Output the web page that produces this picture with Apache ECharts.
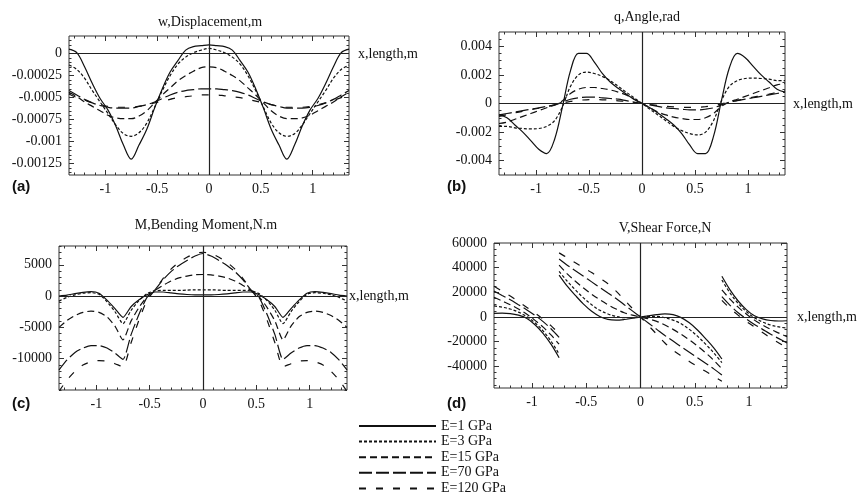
<!DOCTYPE html>
<html>
<head>
<meta charset="utf-8">
<script src="https://cdn.jsdelivr.net/npm/echarts@6/dist/echarts.min.js"></script>
<style>
html,body{margin:0;padding:0;background:#fff;}
#chart{width:859px;height:501px;}
</style>
</head>
<body>
<div id="chart"></div>
<script>
// ---------- data ----------
const seriesNames = ['E=1 GPa','E=3 GPa','E=15 GPa','E=70 GPa','E=120 GPa'];
const xs = [-1.35,-1.275,-1.2,-1.125,-1.05,-0.975,-0.9,-0.825,-0.75,-0.675,-0.6,-0.525,-0.45,-0.375,-0.3,-0.225,-0.15,-0.075,0,0.075,0.15,0.225,0.3,0.375,0.45,0.525,0.6,0.675,0.75,0.825,0.9,0.975,1.05,1.125,1.2,1.275,1.35];

// (a) displacement, m
const dispE1 = [0.00005,0.00001,-0.00015,-0.00034,-0.00051,-0.00064,-0.00082,-0.00104,-0.0012,-0.00104,-0.00086,-0.00062,-0.0004,-0.00021,-0.00008,0.00004,0.00008,0.00009,0.0001,0.00009,0.00008,0.00004,-0.00008,-0.00021,-0.0004,-0.00062,-0.00086,-0.00104,-0.0012,-0.00104,-0.00082,-0.00064,-0.00051,-0.00034,-0.00015,0.00001,0.00005];
const dispE3 = [-0.00013,-0.00018,-0.00028,-0.00042,-0.00055,-0.00068,-0.00081,-0.00091,-0.00094,-0.0009,-0.00079,-0.00061,-0.00042,-0.00025,-0.00012,-0.00004,0.00001,0.00004,0.00006,0.00004,0.00001,-0.00004,-0.00012,-0.00025,-0.00042,-0.00061,-0.00079,-0.0009,-0.00094,-0.00091,-0.00081,-0.00068,-0.00055,-0.00042,-0.00028,-0.00018,-0.00013];
const dispE15 = [-0.00044,-0.00049,-0.00055,-0.0006,-0.00065,-0.0007,-0.00073,-0.00074,-0.00074,-0.00071,-0.00065,-0.00056,-0.00047,-0.00039,-0.00031,-0.00025,-0.0002,-0.00016,-0.00015,-0.00016,-0.0002,-0.00025,-0.00031,-0.00039,-0.00047,-0.00056,-0.00065,-0.00071,-0.00074,-0.00074,-0.00073,-0.0007,-0.00065,-0.0006,-0.00055,-0.00049,-0.00044];
const dispE70 = [-0.00042,-0.00047,-0.00052,-0.00056,-0.00059,-0.00061,-0.00062,-0.00062,-0.00062,-0.0006,-0.00058,-0.00055,-0.00051,-0.00047,-0.00044,-0.00042,-0.00041,-0.0004,-0.0004,-0.0004,-0.00041,-0.00042,-0.00044,-0.00047,-0.00051,-0.00055,-0.00058,-0.0006,-0.00062,-0.00062,-0.00062,-0.00061,-0.00059,-0.00056,-0.00052,-0.00047,-0.00042];
const dispE120 = [-0.00046,-0.0005,-0.00053,-0.00056,-0.00058,-0.0006,-0.00061,-0.00061,-0.00061,-0.0006,-0.00058,-0.00056,-0.00054,-0.00052,-0.0005,-0.00049,-0.00048,-0.00047,-0.00047,-0.00047,-0.00048,-0.00049,-0.0005,-0.00052,-0.00054,-0.00056,-0.00058,-0.0006,-0.00061,-0.00061,-0.00061,-0.0006,-0.00058,-0.00056,-0.00053,-0.0005,-0.00046];

// (b) angle, rad
const angE1 = [-0.0008,-0.001,-0.0015,-0.002,-0.0026,-0.0032,-0.0035,-0.0025,-0.0002,0.0023,0.0035,0.0035,0.0029,0.0021,0.0015,0.00106,0.00067,0.0003,0,-0.0003,-0.00067,-0.00106,-0.0015,-0.0021,-0.0029,-0.0035,-0.0035,-0.0023,0.0002,0.0025,0.0035,0.0032,0.0026,0.002,0.0015,0.001,0.0008];
const angE3 = [-0.0016,-0.0016,-0.0017,-0.00175,-0.00178,-0.00175,-0.0016,-0.0012,-0.0002,0.0012,0.002,0.0022,0.0021,0.0019,0.0016,0.0012,0.0008,0.0004,0,-0.0004,-0.0008,-0.0012,-0.0016,-0.0019,-0.0021,-0.0022,-0.002,-0.0012,0.0002,0.0012,0.0016,0.00175,0.00178,0.00175,0.0017,0.0016,0.0016];
const angE15 = [-0.0014,-0.0013,-0.0011,-0.0009,-0.0007,-0.0005,-0.0003,-0.0001,0.0002,0.0007,0.001,0.00112,0.00112,0.00105,0.00095,0.0008,0.0006,0.0003,0,-0.0003,-0.0006,-0.0008,-0.00095,-0.00105,-0.00112,-0.00112,-0.001,-0.0007,-0.0002,0.0001,0.0003,0.0005,0.0007,0.0009,0.0011,0.0013,0.0014];
const angE70 = [-0.0008,-0.0007,-0.0006,-0.0005,-0.0004,-0.0003,-0.0002,-0.0001,0.0001,0.0003,0.0004,0.00045,0.00045,0.0004,0.00035,0.0003,0.0002,0.0001,0,-0.0001,-0.0002,-0.0003,-0.00035,-0.0004,-0.00045,-0.00045,-0.0004,-0.0003,-0.0001,0.0001,0.0002,0.0003,0.0004,0.0005,0.0006,0.0007,0.0008];
const angE120 = [-0.0009,-0.00078,-0.00066,-0.00055,-0.00044,-0.00033,-0.00022,-0.0001,0.00003,0.00015,0.00022,0.00026,0.00027,0.00026,0.00023,0.00019,0.00014,0.00007,0,-0.00007,-0.00014,-0.00019,-0.00023,-0.00026,-0.00027,-0.00026,-0.00022,-0.00015,-0.00003,0.0001,0.00022,0.00033,0.00044,0.00055,0.00066,0.00078,0.0009];

// (c) bending moment, N.m
const momE1 = [0,150,400,600,700,450,-650,-2000,-3400,-1700,-600,200,650,650,500,350,250,200,200,200,250,350,500,650,650,200,-600,-1700,-3400,-2000,-650,450,700,600,400,150,0];
const momE3 = [-800,-200,200,450,550,300,-900,-2500,-4400,-2300,-700,400,850,900,900,900,950,1000,1000,1000,950,900,900,900,850,400,-700,-2300,-4400,-2500,-900,300,550,450,200,-200,-800];
const momE15 = [-5000,-3900,-3100,-2600,-2400,-2600,-3300,-4800,-7000,-4000,-1800,-100,900,1700,2400,2900,3200,3400,3450,3400,3200,2900,2400,1700,900,-100,-1800,-4000,-7000,-4800,-3300,-2600,-2400,-2600,-3100,-3900,-5000];
const momE70 = [-11800,-10200,-9000,-8300,-7900,-7900,-8300,-9100,-10100,-6200,-2900,-200,1000,2600,3900,4900,5700,6400,6800,6400,5700,4900,3900,2600,1000,-200,-2900,-6200,-10100,-9100,-8300,-7900,-7900,-8300,-9000,-10200,-11800];
const momE120 = [-15200,-13400,-12000,-11000,-10500,-10300,-10400,-10800,-11300,-7500,-3800,-700,1000,2800,4300,5400,6200,6800,7000,6800,6200,5400,4300,2800,1000,-700,-3800,-7500,-11300,-10800,-10400,-10300,-10500,-11000,-12000,-13400,-15200];

// (d) shear force, N  (three segments, jumps at the supports x = ±0.75)
const xsLeft = xs.slice(0, 9), xsMid = xs.slice(8, 29), xsRight = xs.slice(28);
const shearE1L = [3000,3200,2800,1500,-1000,-6000,-13000,-22000,-33000];
const shearE3L = [9000,8000,6500,4000,500,-4500,-11000,-19500,-30000];
const shearE15L = [16000,13000,10000,6500,2500,-2500,-8000,-14500,-22000];
const shearE70L = [21000,17500,14000,10000,6000,1500,-3500,-9500,-16500];
const shearE120L = [25000,21000,17000,12500,8000,3500,-1500,-7000,-13500];
const shearE1M = [34000,25000,17500,10500,4700,500,-1900,-2500,-2000,-1000,0,1000,2000,2500,1900,-500,-4700,-10500,-17500,-25000,-34000];
const shearE3M = [37000,29000,22000,15500,10000,5500,2500,500,-500,-500,0,500,500,-500,-2500,-5500,-10000,-15500,-22000,-29000,-37000];
const shearE15M = [42000,35000,29000,23500,18500,14000,10000,6500,3500,1500,0,-1500,-3500,-6500,-10000,-14000,-18500,-23500,-29000,-35000,-42000];
const shearE70M = [47000,42000,37500,33000,28500,24000,19500,15000,10000,5000,0,-5000,-10000,-15000,-19500,-24000,-28500,-33000,-37500,-42000,-47000];
const shearE120M = [52000,48000,44000,40000,36000,31500,27000,21000,14000,7000,0,-7000,-14000,-21000,-27000,-31500,-36000,-40000,-44000,-48000,-52000];
const shearE1R = [33000,22000,13000,6000,1000,-1500,-2800,-3200,-3000];
const shearE3R = [30000,19500,11000,4500,-500,-4000,-6500,-8000,-9000];
const shearE15R = [22000,14500,8000,2500,-2500,-6500,-10000,-13000,-16000];
const shearE70R = [16500,9500,3500,-1500,-6000,-10000,-14000,-17500,-21000];
const shearE120R = [13500,7000,1500,-3500,-8000,-12500,-17000,-21000,-25000];

// tick labels
const xTicks = [-1,-0.5,0,0.5,1];
const dispTicks = [-0.00125,-0.001,-0.00075,-0.0005,-0.00025,0];
const angTicks = [-0.004,-0.002,0,0.002,0.004];
const momTicks = [-10000,-5000,0,5000];
const shearTicks = [-40000,-20000,0,20000,40000,60000];

// ---------- chart ----------
const FONT = 'Liberation Serif';
const zip = (a, b) => a.map((v, i) => [v, b[i]]);
function steps(from, to, step, scale) {
  const out = [];
  const n = Math.round((to - from) / step);
  for (let k = 0; k <= n; k++) out.push(Math.round((from + k * step) * scale) / scale);
  return out;
}
const xMinor = steps(-1.3, 1.3, 0.1, 1000);

const panels = [
  {grid:{left:69, top:36, width:280, height:139}, ymin:-0.00138, ymax:0.0002, ticks:dispTicks, smooth:0.35,
   minor:steps(-0.00135, 0.00015, 0.00005, 1e7), data:[dispE1,dispE3,dispE15,dispE70,dispE120]},
  {grid:{left:499, top:32, width:286, height:143}, ymin:-0.005, ymax:0.005, ticks:angTicks, smooth:0.35,
   minor:steps(-0.0045, 0.0045, 0.0005, 1e6), data:[angE1,angE3,angE15,angE70,angE120]},
  {grid:{left:59, top:246, width:288, height:144}, ymin:-15000, ymax:8000, ticks:momTicks, smooth:0.2,
   minor:steps(-15000, 8000, 1000, 1), data:[momE1,momE3,momE15,momE70,momE120]},
  {grid:{left:494, top:243, width:293, height:145}, ymin:-57500, ymax:60000, ticks:shearTicks, smooth:0.35,
   minor:steps(-55000, 55000, 5000, 1), data:null}
];

const shearSegs = [
  [shearE1L, shearE1M, shearE1R],
  [shearE3L, shearE3M, shearE3R],
  [shearE15L, shearE15M, shearE15R],
  [shearE70L, shearE70M, shearE70R],
  [shearE120L, shearE120M, shearE120R]
];

const dashes = ['solid', [3,2], [7,4], [13,4], [7,10]];

const grids = [], xAxes = [], yAxes = [], series = [];
const labelStyle = {fontFamily: FONT, fontSize: 14, color: '#111'};
const noLine = {show:false, onZero:false};

panels.forEach((p, gi) => {
  grids.push(Object.assign({show: true, borderColor: '#333', borderWidth: 1, backgroundColor: 'transparent'}, p.grid));
  const xBase = {type:'value', gridIndex:gi, min:-1.35, max:1.35, splitLine:{show:false}, axisLine:noLine};
  xAxes.push(Object.assign({}, xBase, {position:'bottom',
    axisTick:{show:true, inside:true, length:5, customValues:xTicks, lineStyle:{color:'#333'}},
    axisLabel:Object.assign({show:true, margin:7, customValues:xTicks, formatter:v=>String(v)}, labelStyle)}));
  xAxes.push(Object.assign({}, xBase, {position:'bottom',
    axisTick:{show:true, inside:true, length:2.5, customValues:xMinor, lineStyle:{color:'#333'}},
    axisLabel:{show:false}}));
  xAxes.push(Object.assign({}, xBase, {position:'top',
    axisTick:{show:true, inside:true, length:5, customValues:xTicks, lineStyle:{color:'#333'}},
    axisLabel:{show:false}}));
  xAxes.push(Object.assign({}, xBase, {position:'top',
    axisTick:{show:true, inside:true, length:2.5, customValues:xMinor, lineStyle:{color:'#333'}},
    axisLabel:{show:false}}));
  const yBase = {type:'value', gridIndex:gi, min:p.ymin, max:p.ymax, splitLine:{show:false}, axisLine:noLine};
  yAxes.push(Object.assign({}, yBase, {position:'left',
    axisTick:{show:true, inside:true, length:5, customValues:p.ticks, lineStyle:{color:'#333'}},
    axisLabel:Object.assign({show:true, margin:7, customValues:p.ticks, formatter:v=>String(v)}, labelStyle)}));
  yAxes.push(Object.assign({}, yBase, {position:'left',
    axisTick:{show:true, inside:true, length:2.5, customValues:p.minor, lineStyle:{color:'#333'}},
    axisLabel:{show:false}}));
  yAxes.push(Object.assign({}, yBase, {position:'right',
    axisTick:{show:true, inside:true, length:5, customValues:p.ticks, lineStyle:{color:'#333'}},
    axisLabel:{show:false}}));
  yAxes.push(Object.assign({}, yBase, {position:'right',
    axisTick:{show:true, inside:true, length:2.5, customValues:p.minor, lineStyle:{color:'#333'}},
    axisLabel:{show:false}}));

  seriesNames.forEach((name, si) => {
    let data;
    if (p.data) {
      data = zip(xs, p.data[si]);
    } else {
      const [L, M, R] = shearSegs[si];
      data = zip(xsLeft, L).concat([[-0.75, '-']], zip(xsMid, M), [[0.75, '-']], zip(xsRight, R));
    }
    const s = {
      name, type:'line', xAxisIndex: gi*4, yAxisIndex: gi*4, data,
      symbol:'none', showSymbol:false, smooth:p.smooth, connectNulls:false, clip:true,
      lineStyle:{color:'#111', width:1.2, type:dashes[si]},
      itemStyle:{color:'#111'},
      emphasis:{disabled:true}, z: 3
    };
    if (si === 0) {
      s.markLine = {silent:true, symbol:['none','none'], label:{show:false},
        lineStyle:{color:'#222', type:'solid', width:1.2},
        emphasis:{disabled:true},
        data:[{yAxis:0}, {xAxis:0}]};
    }
    series.push(s);
  });
});

function ctext(cx, cy, text) {
  return {type:'text', x:cx, y:cy, silent:true,
    style:{text, fill:'#111', font:'14px "Liberation Serif"', align:'center', verticalAlign:'middle'}};
}
function ltext(lx, cy, text, font) {
  return {type:'text', x:lx, y:cy, silent:true,
    style:{text, fill:'#111', font: font || '14px "Liberation Serif"', align:'left', verticalAlign:'middle'}};
}
const boldSans = 'bold 15px "Liberation Sans"';
const graphics = [
  ctext(210, 22, 'w,Displacement,m'),
  ctext(647, 17, 'q,Angle,rad'),
  ctext(206, 225, 'M,Bending Moment,N.m'),
  ctext(665, 228, 'V,Shear Force,N'),
  ltext(358, 54, 'x,length,m'),
  ltext(793, 104, 'x,length,m'),
  ltext(349, 296, 'x,length,m'),
  ltext(797, 317, 'x,length,m'),
  ltext(12, 187, '(a)', boldSans),
  ltext(447, 187, '(b)', boldSans),
  ltext(12, 404, '(c)', boldSans),
  ltext(447, 404, '(d)', boldSans)
];

const chart = echarts.init(document.getElementById('chart'), null, {renderer:'canvas'});
chart.setOption({
  animation:false,
  backgroundColor:'#fff',
  grid:grids,
  xAxis:xAxes,
  yAxis:yAxes,
  legend:{
    data:seriesNames, orient:'vertical', left:358, top:419, height:82, padding:0,
    itemWidth:77, itemHeight:14, itemGap:1.6, selectedMode:false,
    itemStyle:{opacity:0},
    textStyle:{fontFamily:FONT, fontSize:14, color:'#111', lineHeight:14}
  },
  graphic:graphics,
  series
});
</script>
</body>
</html>
